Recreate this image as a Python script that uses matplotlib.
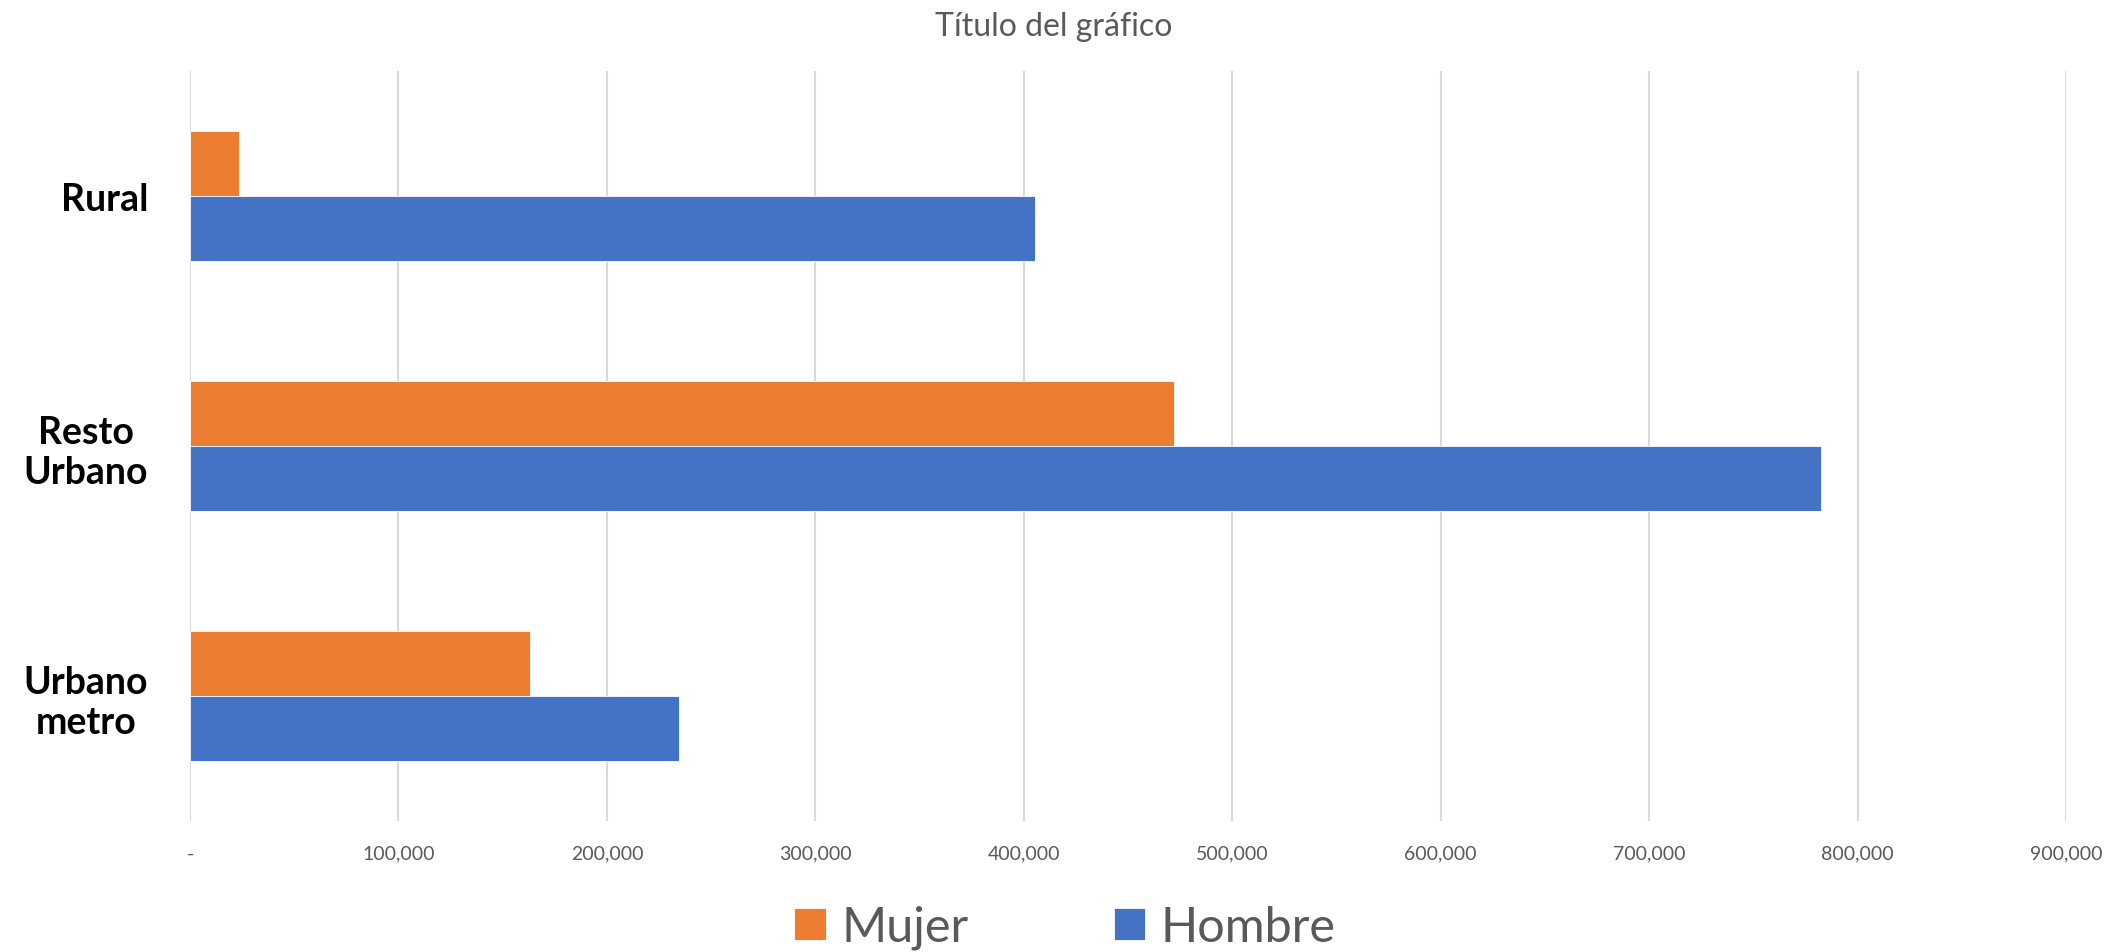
import numpy as np
import matplotlib.pyplot as plt
from matplotlib.ticker import FuncFormatter

plt.rcParams['font.family'] = ['Lato', 'DejaVu Sans']

categories = ['Urbano\nmetro', 'Resto\nUrbano', 'Rural']
mujer = [163000, 472000, 23500]
hombre = [234700, 782400, 405400]
series_names = ['Mujer', 'Hombre']
colors = ['#ED7D31', '#4472C4']

fig = plt.figure(figsize=(21.09, 9.53), dpi=100)
ax = fig.add_axes([0.0901, 0.1375, 0.8895, 0.7869])

y = np.arange(len(categories))
h = 0.26
ax.barh(y + h / 2, mujer, height=h, color=colors[0], label=series_names[0],
        edgecolor='white', linewidth=0.6)
ax.barh(y - h / 2, hombre, height=h, color=colors[1], label=series_names[1],
        edgecolor='white', linewidth=0.6)

ax.set_xlim(0, 900000)
ax.set_ylim(-0.5, 2.5)
ax.set_xticks(np.arange(0, 900001, 100000))
ax.xaxis.set_major_formatter(FuncFormatter(lambda v, p: '-' if v == 0 else '{:,.0f}'.format(v)))
ax.set_yticks(y)
ax.set_yticklabels(categories, fontsize=27, fontweight='bold', color='black',
                   multialignment='center')
ax.tick_params(axis='y', length=0, pad=30)
ax.tick_params(axis='x', length=0, pad=17, labelsize=14, labelcolor='#595959')

ax.grid(axis='x', color='#D9D9D9', linewidth=1.5)
ax.set_axisbelow(True)
for s in ax.spines.values():
    s.set_visible(False)

fig.text(0.4995, 0.972, 'Título del gráfico', ha='center', va='center',
         fontsize=23, color='#595959')

fig.legend(loc='center', bbox_to_anchor=(0.505, 0.026), ncol=2, frameon=False,
           fontsize=35, labelcolor='#595959', handlelength=0.64, handleheight=0.64,
           handletextpad=0.32, columnspacing=3.0)

fig.savefig('out.png', dpi=100)
